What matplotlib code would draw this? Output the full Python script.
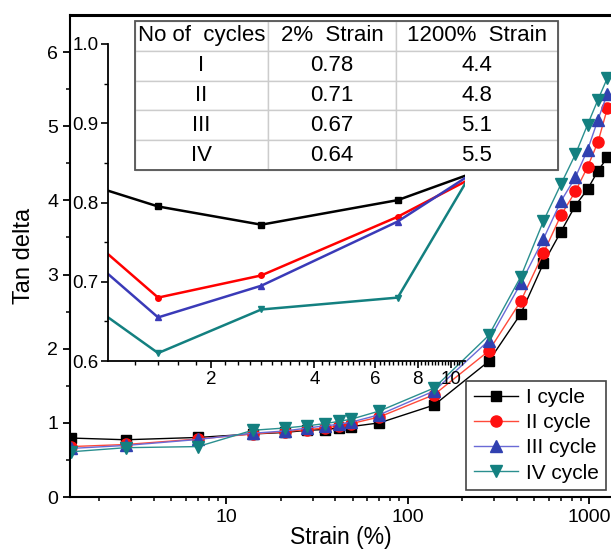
import matplotlib
matplotlib.use("Agg")
import matplotlib.pyplot as plt
from matplotlib.patches import Rectangle
import numpy as np

plt.rcParams['font.family'] = ['Liberation Sans', 'DejaVu Sans']

# strain (%) and tan delta for each cycle
strain = [0.7, 1.4, 2.8, 7, 14, 21, 28, 35, 42, 49, 70, 140,
          280, 420, 560, 700, 840, 980, 1120, 1260]
cycle_1 = [0.836, 0.795, 0.772, 0.803, 0.85, 0.87, 0.90, 0.91, 0.93, 0.95, 1.00, 1.24,
           1.83, 2.47, 3.15, 3.58, 3.93, 4.15, 4.40, 4.58]
cycle_2 = [0.793, 0.680, 0.708, 0.782, 0.85, 0.88, 0.91, 0.93, 0.96, 0.99, 1.08, 1.38,
           1.97, 2.64, 3.29, 3.80, 4.12, 4.45, 4.79, 5.24]
cycle_3 = [0.768, 0.655, 0.695, 0.776, 0.86, 0.89, 0.93, 0.96, 0.98, 1.01, 1.11, 1.43,
           2.11, 2.88, 3.48, 3.99, 4.31, 4.68, 5.09, 5.44]
cycle_4 = [0.703, 0.610, 0.665, 0.680, 0.90, 0.93, 0.96, 0.99, 1.02, 1.05, 1.16, 1.47,
           2.18, 2.97, 3.72, 4.22, 4.62, 5.02, 5.36, 5.65]
series_labels = ['I cycle', 'II cycle', 'III cycle', 'IV cycle']

table_header = ['No of  cycles', '2%  Strain', '1200%  Strain']
table_cycles = ['I', 'II', 'III', 'IV']
table_2pct = ['0.78', '0.71', '0.67', '0.64']
table_1200pct = ['4.4', '4.8', '5.1', '5.5']

series = [cycle_1, cycle_2, cycle_3, cycle_4]
line_colors = ['#000000', '#ff4a3a', '#6a6ad6', '#2a8f8f']
mark_colors = ['#000000', '#ff1010', '#3040b0', '#138080']
inset_colors = ['#000000', '#ff0000', '#3a3ab8', '#138080']
markers = ['s', 'o', '^', 'v']
msizes = [7, 8, 8.5, 8.5]

fig = plt.figure(figsize=(6.11, 5.5), dpi=100)

# main axes
ax = fig.add_axes([70/611, 1-497/550, 1-70/611, 482/550])
for y, lc, mc, m, ms, lab in zip(series, line_colors, mark_colors, markers, msizes, series_labels):
    ax.plot(strain, y, color=lc, lw=1, marker=m, ms=ms, mfc=mc, mec=mc, label=lab)

ax.set_xscale('log')
ax.set_xlim(1.38, 1320)
ax.set_ylim(0, 6.5)
ax.set_xticks([10, 100, 1000])
ax.set_xticklabels(['10', '100', '1000'])
ax.set_yticks(range(7))
ax.set_yticks(np.arange(0.5, 6.5, 1), minor=True)
ax.tick_params(which='major', direction='out', length=5, width=1.3, labelsize=14)
ax.tick_params(which='minor', direction='out', length=3, width=1.1)
ax.spines['right'].set_visible(False)
for s in ['left', 'bottom']:
    ax.spines[s].set_linewidth(1.5)
ax.spines['top'].set_linewidth(2.2)
ax.set_xlabel('Strain (%)', fontsize=16.5, labelpad=0)
ax.set_ylabel('Tan delta', fontsize=17, labelpad=9)

leg = ax.legend(loc='lower right', bbox_to_anchor=(606/611, 1-490/550),
                bbox_transform=fig.transFigure, borderaxespad=0, fontsize=15,
                fancybox=False, framealpha=1, edgecolor='#444444',
                labelspacing=0.3, handlelength=2.1, handletextpad=0.4,
                borderpad=0.35)
leg.get_frame().set_linewidth(1.2)

# inset zoom of the low strain part
ins = fig.add_axes([108/611, 1-361/550, 357/611, 317/550])
ins.patch.set_alpha(0)
for y, c, m in zip(series, inset_colors, markers):
    ins.plot(strain, y, color=c, lw=1.8, marker=m, ms=4, mfc=c, mec=c)
ins.set_xscale('log')
ins.set_xlim(1.0, 11)
ins.set_ylim(0.6, 1.0)
ins.set_xticks([2, 4, 6, 8, 10])
ins.set_xticklabels(['2', '4', '6', '8', '10'])
ins.set_xticks(np.arange(1.2, 11, 0.2), minor=True)
ins.xaxis.set_minor_formatter(plt.NullFormatter())
ins.set_yticks([0.6, 0.7, 0.8, 0.9, 1.0])
ins.set_yticklabels(['0.6', '0.7', '0.8', '0.9', '1.0'])
ins.set_yticks([0.65, 0.75, 0.85, 0.95], minor=True)
ins.tick_params(which='major', direction='out', length=5, width=1.2, labelsize=13.5, pad=2)
ins.tick_params(which='minor', direction='out', length=3, width=1)
ins.spines['top'].set_visible(False)
ins.spines['right'].set_visible(False)
for s in ['left', 'bottom']:
    ins.spines[s].set_linewidth(1.3)

# summary table
tax = fig.add_axes([135/611, 1-170/550, 423/611, 149/550])
tax.axis('off')
rows = [[c, a, b] for c, a, b in zip(table_cycles, table_2pct, table_1200pct)]
tbl = tax.table(cellText=rows, colLabels=table_header, cellLoc='center',
                colWidths=[133, 128, 162], bbox=[0, 0, 1, 1])
tbl.auto_set_font_size(False)
tbl.set_fontsize(16)
for cell in tbl.get_celld().values():
    cell.set_edgecolor('#cccccc')
    cell.set_linewidth(1)
    cell.set_facecolor('white')
tax.add_patch(Rectangle((0, 0), 1, 1, transform=tax.transAxes, fill=False,
                        edgecolor='#555555', lw=1.3, zorder=10, clip_on=False))

fig.savefig('out.png', dpi=100)
